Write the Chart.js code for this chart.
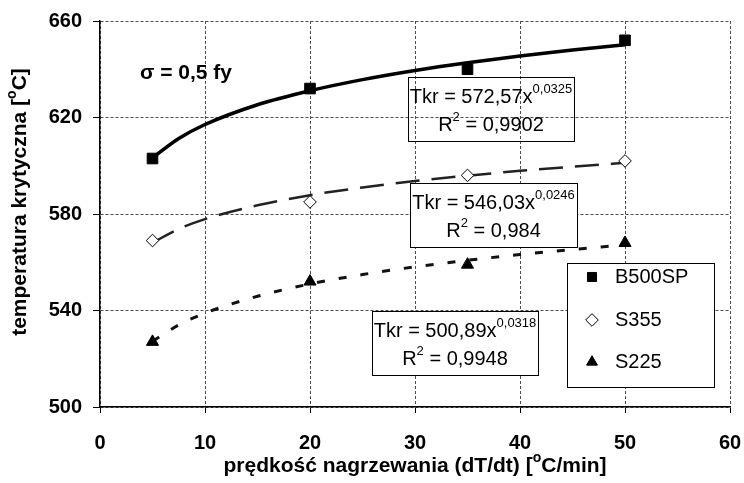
<!DOCTYPE html>
<html>
<head>
<meta charset="utf-8">
<script src="https://cdn.jsdelivr.net/npm/chart.js@4.4.1/dist/chart.umd.min.js"></script>
<style>
	html, body { margin: 0; padding: 0; background: #fff; }
	#c1 { display: block; }
</style>
</head>
<body>
<canvas id="c1" width="744" height="483"></canvas>
<script>
var speeds = [5, 20, 35, 50];
var b500sp = [603, 632, 640, 652];
var s355 = [569, 585, 596, 602];
var s225 = [527, 552, 559, 568];

// trend curves
var trendX = [5, 7.5, 10, 15, 20, 25, 30, 35, 40, 45, 50];
var trendB500sp = [603.3, 611.3, 617.1, 625.3, 631.1, 635.7, 639.5, 642.7, 645.5, 648.0, 650.2];
var trendS355 = [568.1, 573.8, 577.9, 583.6, 587.8, 591.0, 593.7, 595.9, 597.9, 599.6, 601.2];
var trendS225 = [527.2, 534.0, 538.9, 545.9, 551.0, 554.9, 558.1, 560.8, 563.2, 565.3, 567.2];

var xTicks = [0, 10, 20, 30, 40, 50, 60];
var yTicks = [500, 540, 580, 620, 660];

var seriesNames = ['B500SP', 'S355', 'S225'];
var eqCoef = ['572,57', '546,03', '500,89'];
var eqExp = ['0,0325', '0,0246', '0,0318'];
var eqR2 = ['0,9902', '0,984', '0,9948'];

var FONT = '"Liberation Sans", Arial, sans-serif';

function pts(xs, ys) {
	var out = [];
	for (var i = 0; i < xs.length; i++) {
		out.push({x: xs[i], y: ys[i]});
	}
	return out;
}

function fnt(size, bold) {
	return (bold ? 'bold ' : '') + size + 'px ' + FONT;
}

// parts: [text, isSuperscript]
function drawRich(ctx, parts, x, y, align, size, bold) {
	var total = 0;
	var i, w;
	var widths = [];
	for (i = 0; i < parts.length; i++) {
		ctx.font = fnt(parts[i][1] ? Math.round(size * 0.65) : size, bold);
		w = ctx.measureText(parts[i][0]).width;
		widths.push(w);
		total += w;
	}
	var cx = align == 'center' ? x - total / 2 : x;
	ctx.textAlign = 'left';
	ctx.textBaseline = 'middle';
	for (i = 0; i < parts.length; i++) {
		ctx.font = fnt(parts[i][1] ? Math.round(size * 0.65) : size, bold);
		ctx.fillText(parts[i][0], cx, parts[i][1] ? y - size * 0.36 : y);
		cx += widths[i];
	}
}

var markerStyles = [
	{pointStyle: 'rect', fill: '#000', border: '#000'},
	{pointStyle: 'rectRot', fill: '#fff', border: '#000'},
	{pointStyle: 'triangle', fill: '#000', border: '#000'}
];

var extras = {
	id: 'extras',
	afterDraw: function(chart) {
		var ctx = chart.ctx;
		var a = chart.chartArea;
		ctx.save();
		ctx.fillStyle = '#000';

		drawRich(ctx, [['\u03c3 = 0,5 fy', false]], a.left + 40, a.top + 52, 'left', 21, true);

		var boxes = [
			{l: 308, t: 56, w: 166, h: 64, fill: false},
			{l: 310, t: 162, w: 167, h: 64, fill: true},
			{l: 272, t: 290, w: 166, h: 64, fill: true}
		];
		for (var i = 0; i < boxes.length; i++) {
			var b = boxes[i];
			var bx = a.left + b.l, by = a.top + b.t;
			if (b.fill) {
				ctx.fillStyle = '#fff';
				ctx.fillRect(bx, by, b.w, b.h);
			}
			ctx.strokeStyle = '#000';
			ctx.lineWidth = 1;
			ctx.strokeRect(bx + 0.5, by + 0.5, b.w, b.h);
			ctx.fillStyle = '#000';
			drawRich(ctx, [['Tkr = ' + eqCoef[i] + 'x', false], [eqExp[i], true]], bx + b.w / 2, by + 20, 'center', 20, false);
			drawRich(ctx, [['R', false], ['2', true], [' = ' + eqR2[i], false]], bx + b.w / 2, by + 48, 'center', 20, false);
		}

		// legend
		var lx = a.left + 467, ly = a.top + 242;
		ctx.fillStyle = '#fff';
		ctx.fillRect(lx, ly, 147, 124);
		ctx.strokeStyle = '#000';
		ctx.lineWidth = 1;
		ctx.strokeRect(lx + 0.5, ly + 0.5, 147, 124);
		var rows = [14, 57, 99];
		for (var j = 0; j < seriesNames.length; j++) {
			var m = markerStyles[j];
			ctx.fillStyle = m.fill;
			ctx.strokeStyle = m.border;
			ctx.lineWidth = 1;
			Chart.helpers.drawPoint(ctx, {pointStyle: m.pointStyle, radius: j == 0 ? 6.4 : 6.3, borderWidth: 1, rotation: 0}, lx + 25, ly + rows[j]);
			ctx.fillStyle = '#000';
			drawRich(ctx, [[seriesNames[j], false]], lx + 48, ly + rows[j], 'left', 20, false);
		}

		// axis titles
		ctx.fillStyle = '#000';
		drawRich(ctx, [['pr\u0119dko\u015b\u0107 nagrzewania (dT/dt) [', false], ['o', true], ['C/min]', false]],
			(a.left + a.right) / 2, 466, 'center', 21, true);
		ctx.translate(20, a.top + 181);
		ctx.rotate(-Math.PI / 2);
		drawRich(ctx, [['temperatura krytyczna [', false], ['o', true], ['C]', false]], 0, 0, 'center', 21, true);
		ctx.restore();
	}
};

var gridColor = '#4d4d4d';

new Chart(document.getElementById('c1'), {
	type: 'scatter',
	data: {
		datasets: [
			{label: seriesNames[0], data: pts(speeds, b500sp), showLine: false,
				pointStyle: 'rect', pointRadius: 7.5, pointBackgroundColor: '#000', pointBorderColor: '#000', pointBorderWidth: 1},
			{label: seriesNames[1], data: pts(speeds, s355), showLine: false,
				pointStyle: 'rectRot', pointRadius: 6.3, pointBackgroundColor: '#fff', pointBorderColor: '#000', pointBorderWidth: 1},
			{label: seriesNames[2], data: pts(speeds, s225), showLine: false,
				pointStyle: 'triangle', pointRadius: 7, pointBackgroundColor: '#000', pointBorderColor: '#000', pointBorderWidth: 1},
			{label: 'trend B500SP', data: pts(trendX, trendB500sp), showLine: true, pointRadius: 0,
				borderColor: '#000', borderWidth: 3.5, cubicInterpolationMode: 'monotone'},
			{label: 'trend S355', data: pts(trendX, trendS355), showLine: true, pointRadius: 0,
				borderColor: '#222', borderWidth: 2.5, borderDash: [24, 12], cubicInterpolationMode: 'monotone'},
			{label: 'trend S225', data: pts(trendX, trendS225), showLine: true, pointRadius: 0,
				borderColor: '#111', borderWidth: 3, borderDash: [8, 14], cubicInterpolationMode: 'monotone'}
		]
	},
	options: {
		responsive: false,
		animation: false,
		devicePixelRatio: 1,
		layout: {padding: {left: 0, right: 14, top: 21, bottom: 0}},
		plugins: {legend: {display: false}, tooltip: {enabled: false}},
		scales: {
			x: {
				type: 'linear', min: 0, max: 60,
				afterBuildTicks: function(s) { s.ticks = xTicks.map(function(v) { return {value: v}; }); },
				afterFit: function(s) {
					s.height = 76;
					s.paddingLeft = 0;
					s.paddingRight = 0;
				},
				grid: {color: gridColor, lineWidth: 1, tickLength: 6, tickColor: '#000'},
				border: {color: '#000', width: 1.5, dash: [3, 2]},
				ticks: {color: '#000', padding: 18, font: {family: FONT, size: 20, weight: 'bold'}}
			},
			y: {
				type: 'linear', min: 500, max: 660,
				afterBuildTicks: function(s) { s.ticks = yTicks.map(function(v) { return {value: v}; }); },
				afterFit: function(s) {
					s.width = 100;
					s.paddingTop = 0;
					s.paddingBottom = 0;
				},
				grid: {color: gridColor, lineWidth: 1, tickLength: 7, tickColor: '#000'},
				border: {color: '#000', width: 1.5, dash: [3, 2]},
				ticks: {color: '#000', padding: 11, font: {family: FONT, size: 20, weight: 'bold'}}
			}
		}
	},
	plugins: [extras]
});
</script>
</body>
</html>
